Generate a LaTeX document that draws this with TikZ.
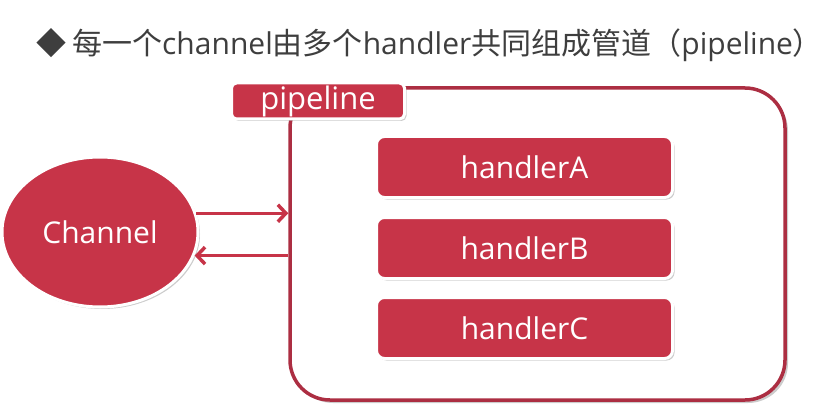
\documentclass[tikz,border=0pt]{standalone}
\usepackage{fontspec}
\setmainfont{Open Sans}
\newfontfamily\cjk{Noto Sans CJK SC}
\usetikzlibrary{arrows.meta,shapes.geometric,shadows}
\definecolor{nettyred}{RGB}{199,52,72}
\definecolor{pipered}{RGB}{172,46,66}
\definecolor{titlegray}{RGB}{62,62,62}

\begin{document}
\begin{tikzpicture}[x=1pt,y=-1pt,
    redbox/.style={fill=nettyred,draw=white,line width=3pt,text=white,
      drop shadow={shadow xshift=2pt,shadow yshift=-2pt,opacity=0.4}},
    flow/.style={draw=nettyred,line width=3.5pt,-{Straight Barb[length=8pt,width=17pt]}}]
    \useasboundingbox (0,0) rectangle (829,414);

    \node[anchor=west,inner sep=0pt,text=titlegray,font=\fontsize{30}{34}\selectfont] (title) at (36,45)
      {{\cjk ◆\hspace{6pt}每一个}channel{\cjk 由多个}handler{\cjk 共同组成管道（}pipeline{\cjk ）}};

    \node[draw=pipered,fill=white,line width=3.5pt,rounded corners=40pt,
      minimum width=495,minimum height=312,
      drop shadow={shadow xshift=3pt,shadow yshift=-3pt,opacity=0.4}] (pipe) at (537.5,244) {};
    \node[redbox,rounded corners=5pt,minimum width=173,minimum height=36,inner sep=0pt,
      font=\fontsize{31}{34}\selectfont] (label) at (318,101) {pipeline};

    \node[redbox,ellipse,minimum width=196,minimum height=150,
      font=\fontsize{30}{34}\selectfont] (chan) at (100,232) {Channel};

    \foreach \name/\y in {A/167, B/248, C/328}
      \node[redbox,rounded corners=8pt,minimum width=296,minimum height=61,
        font=\fontsize{30}{34}\selectfont] (handler\name) at (524.5,\y) {handler\name};

    \draw[flow] (chan.11) -- (chan.11 -| pipe.west);
    \draw[flow] (chan.-14 -| pipe.west) -- (chan.-14);
\end{tikzpicture}
\end{document}
